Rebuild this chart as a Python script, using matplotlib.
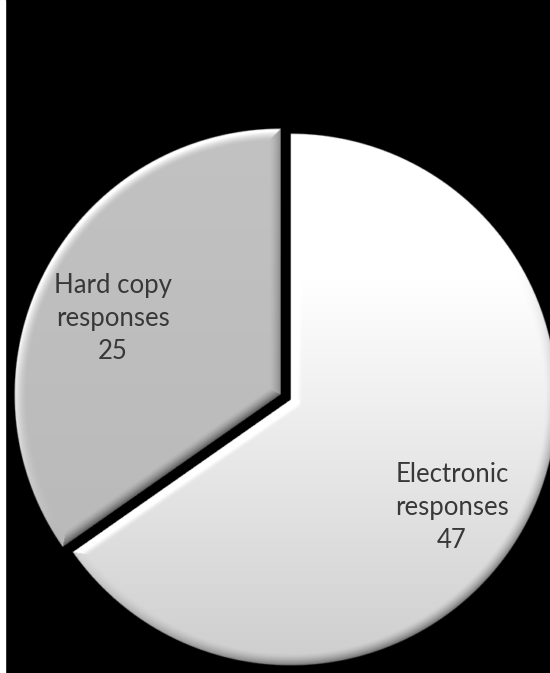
import numpy as np
import matplotlib
matplotlib.use("Agg")
import matplotlib.pyplot as plt
from matplotlib.patches import Rectangle

# data
categories = ["Electronic\nresponses", "Hard copy\nresponses"]
counts = [47, 25]
explode = [0.0, 0.042]

# style
base_grey = [0.94, 0.74]       # grey level at slice centre
grad_grey = [0.133, 0.02]      # vertical gradient (lighter towards the top)
label_dist = [0.73, 0.69]
label_nudge = [-6.0, 3.0]      # degrees
light = np.array([-0.5, 0.85])
light = light / np.linalg.norm(light)


def seg_dist(px, py, ux, uy, R):
    """distance from points to the segment 0 -> R*u"""
    proj = np.clip(px * ux + py * uy, 0, R)
    return np.hypot(px - proj * ux, py - proj * uy)


def shade_wedge(ax, w, base, grad, n=700, bevel=0.045, strength=0.38):
    cx, cy = w.center
    R = w.r
    t1, t2 = np.radians(w.theta1), np.radians(w.theta2)
    xs = np.linspace(cx - R * 1.02, cx + R * 1.02, n)
    ys = np.linspace(cy - R * 1.02, cy + R * 1.02, n)
    X, Y = np.meshgrid(xs, ys)
    px, py = X - cx, Y - cy
    r = np.hypot(px, py) + 1e-9
    phi = np.arctan2(py, px)
    inside_ang = ((phi - t1) % (2 * np.pi)) <= ((t2 - t1) % (2 * np.pi) or 2 * np.pi)

    d_arc = R - r
    u1 = (np.cos(t1), np.sin(t1))
    u2 = (np.cos(t2), np.sin(t2))
    d1 = seg_dist(px, py, u1[0], u1[1], R)
    d2 = seg_dist(px, py, u2[0], u2[1], R)
    s1 = np.where(inside_ang, d1, -d1)
    s2 = np.where(inside_ang, d2, -d2)
    s = np.minimum(d_arc, np.minimum(s1, s2))
    pix = (xs[1] - xs[0]) * 1.2
    alpha = np.clip(s / pix + 0.5, 0, 1)

    # normal of the nearest boundary
    n_arc = np.stack([px / r, py / r])
    n1 = np.array([np.sin(t1), -np.cos(t1)])[:, None, None] * np.ones_like(px)
    n2 = np.array([-np.sin(t2), np.cos(t2)])[:, None, None] * np.ones_like(px)
    which = np.argmin(np.stack([d_arc, d1, d2]), axis=0)
    nx = np.choose(which, [n_arc[0], n1[0], n2[0]])
    ny = np.choose(which, [n_arc[1], n1[1], n2[1]])
    dmin = np.clip(np.minimum(d_arc, np.minimum(d1, d2)), 0, None)
    t = np.clip(1 - dmin / bevel, 0, 1) ** 1.5

    grey = base + grad * (Y / R)
    grey = grey + strength * (nx * light[0] + ny * light[1]) * t
    grey = np.clip(grey, 0, 1)

    img = np.zeros((n, n, 4))
    img[..., 0] = grey
    img[..., 1] = grey
    img[..., 2] = grey
    img[..., 3] = alpha
    ax.imshow(img, extent=(xs[0], xs[-1], ys[0], ys[-1]), origin="lower",
              interpolation="bilinear", zorder=2)


fig = plt.figure(figsize=(5.5, 6.73), dpi=100, facecolor="black")
ax = fig.add_axes([0, 0, 1, 1])
ax.set_facecolor("black")

wedges, _ = ax.pie(counts, startangle=90, counterclock=False, explode=explode,
                   colors=["black", "black"], wedgeprops=dict(linewidth=0))
for w in wedges:
    w.set_visible(False)

for i, w in enumerate(wedges):
    shade_wedge(ax, w, base_grey[i], grad_grey[i])
    mid = np.radians((w.theta1 + w.theta2) / 2 + label_nudge[i])
    cx, cy = w.center
    ax.text(cx + label_dist[i] * np.cos(mid), cy + label_dist[i] * np.sin(mid),
            "%s\n%d" % (categories[i], counts[i]), ha="center", va="center",
            fontsize=18.5, family="Lato", color="#383838", linespacing=1.4,
            zorder=3)

ax.set_xlim(-1.09, 0.977)
ax.set_ylim(-1.026, 1.504)
ax.set_aspect("auto")
ax.axis("off")

# thin white strip at the left edge of the original image
fig.patches.append(Rectangle((0, 0), 5 / 550, 1, transform=fig.transFigure,
                             color="white", zorder=10))

fig.savefig("out.png", dpi=100, facecolor="black")
